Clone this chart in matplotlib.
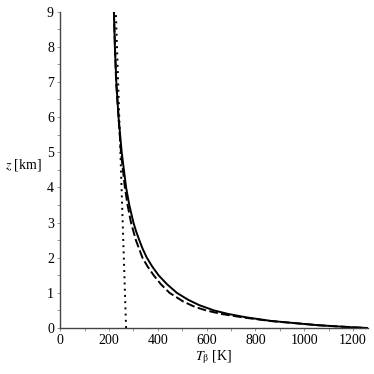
import matplotlib.pyplot as plt
from matplotlib.ticker import MultipleLocator

# solid curve: height z [km] vs brightness temperature T [K]
z_solid = [9.0, 8.0, 7.0, 6.0, 5.0, 4.5, 4.0, 3.5, 3.0, 2.75, 2.5, 2.25, 2.0,
           1.75, 1.5, 1.25, 1.0, 0.8, 0.65, 0.5, 0.4, 0.3, 0.2, 0.13, 0.08,
           0.05, 0.02, 0.0]
T_solid = [220, 224, 230, 239, 252, 261, 270, 283, 300, 311, 324, 338, 355,
           377, 403, 437, 478, 525, 570, 630, 688, 765, 865, 975, 1055,
           1125, 1200, 1260]

# dashed curve
z_dash = [9.0, 7.0, 5.0, 4.0, 3.5, 3.0, 2.5, 2.0, 1.75, 1.5, 1.25, 1.0, 0.75,
          0.6, 0.5, 0.4, 0.3, 0.2, 0.13, 0.08, 0.05, 0.02, 0.0]
T_dash = [220, 229, 249, 265, 276, 290, 310, 337, 358, 383, 412, 448, 505,
          552, 598, 660, 750, 860, 975, 1055, 1125, 1200, 1260]

# dotted line
z_dot = [0.0, 9.0]
T_dot = [270, 228]

plt.rcParams['font.family'] = ['Liberation Serif', 'DejaVu Serif']
plt.rcParams['mathtext.fontset'] = 'stix'

fig = plt.figure(figsize=(3.74, 3.74), dpi=100)
ax = fig.add_axes([0.161, 0.123, 0.822, 0.846])

ax.plot(T_solid, z_solid, color='black', lw=1.4)
ax.plot(T_dash, z_dash, color='black', lw=1.4, linestyle=(0, (4.5, 1.7)))
ax.plot(T_dot, z_dot, color='black', lw=1.4, linestyle=(0, (1, 2.2)))

ax.set_xlim(0, 1260)
ax.set_ylim(0, 9)

for s in ['top', 'right']:
    ax.spines[s].set_visible(False)
for s in ['left', 'bottom']:
    ax.spines[s].set_color('#444444')
    ax.spines[s].set_linewidth(1.0)

ax.xaxis.set_major_locator(MultipleLocator(200))
ax.xaxis.set_minor_locator(MultipleLocator(100))
ax.yaxis.set_major_locator(MultipleLocator(1))
ax.yaxis.set_minor_locator(MultipleLocator(0.5))
ax.tick_params(which='both', direction='out', length=2.5, width=0.6,
               color='#888888', labelsize=10, pad=2)

ax.set_xlabel(r'$T_{\mathrm{\beta}}$ [K]', fontsize=10, labelpad=1)
ax.set_ylabel(r'$z$ [km]', fontsize=10, rotation=0, ha='right', va='center')
ax.yaxis.set_label_coords(-0.06, 0.515)

fig.savefig('out.png', dpi=100)
